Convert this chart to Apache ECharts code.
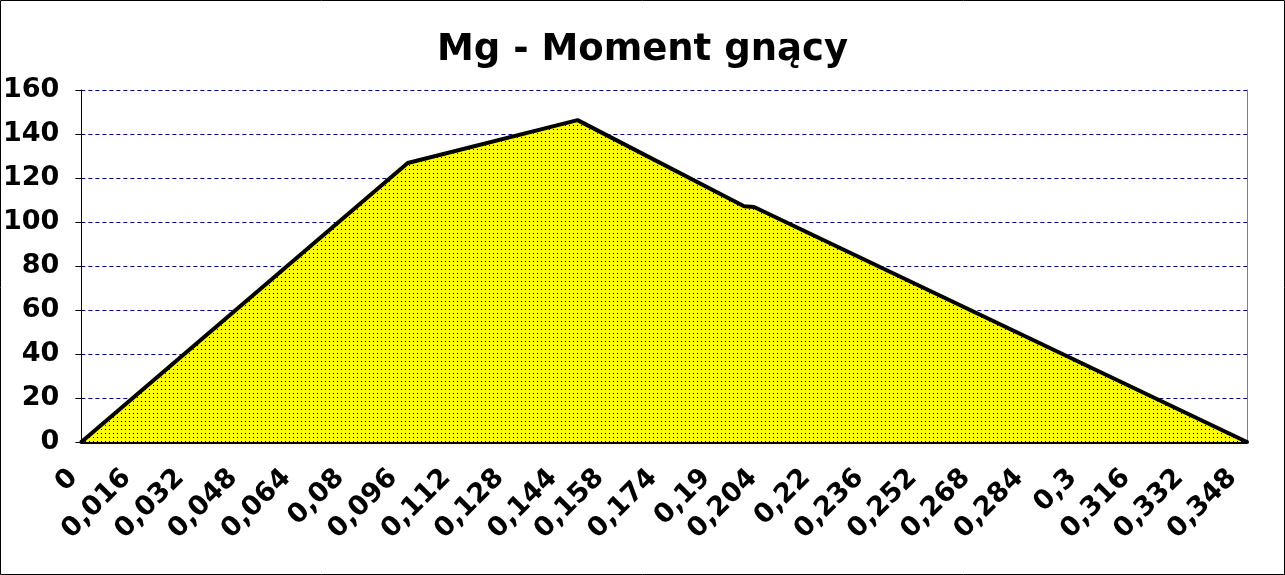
<!DOCTYPE html>
<html>
<head>
<meta charset="utf-8">
<script src="https://cdn.jsdelivr.net/npm/echarts@6/dist/echarts.min.js"></script>
<style>
html,body{margin:0;padding:0;background:#fff;}
#c{width:1285px;height:575px;}
</style>
</head>
<body>
<div id="c"></div>
<script>
// Data (x in metres, Mg values)
var xPoints = [0, 0.098, 0.149, 0.199, 0.202, 0.35];
var mgValues = [0, 126.8, 146.3, 107.2, 106.8, 0];
var xTickLabels = [0, 0.016, 0.032, 0.048, 0.064, 0.08, 0.096, 0.112, 0.128, 0.144, 0.158, 0.174, 0.19, 0.204, 0.22, 0.236, 0.252, 0.268, 0.284, 0.3, 0.316, 0.332, 0.348];
var yTicks = [0, 20, 40, 60, 80, 100, 120, 140, 160];
var titleText = 'Mg - Moment gnący';

var seriesData = xPoints.map(function (x, i) { return [x, mgValues[i]]; });

// dotted yellow fill pattern
var pat = document.createElement('canvas');
pat.width = 4; pat.height = 4;
var pc = pat.getContext('2d');
pc.fillStyle = '#ffff00';
pc.fillRect(0, 0, 4, 4);
pc.fillStyle = '#000000';
pc.fillRect(1, 1, 1, 1);

var FONT = 'DejaVu Sans';
var chart = echarts.init(document.getElementById('c'), null, {renderer: 'canvas'});
chart.setOption({
  backgroundColor: '#ffffff',
  animation: false,
  title: {
    text: titleText,
    left: 'center',
    top: 27,
    textStyle: {fontFamily: FONT, fontWeight: 'bold', fontSize: 37, color: '#000'}
  },
  graphic: [{
    type: 'rect',
    shape: {x: 0.5, y: 0.5, width: 1284, height: 574},
    style: {fill: null, stroke: '#000', lineWidth: 1},
    silent: true
  }],
  grid: {left: 80, top: 90, right: 38, bottom: 133, containLabel: false},
  xAxis: {
    type: 'value',
    min: 0,
    max: 0.35,
    axisLine: {show: true, onZero: false, lineStyle: {color: '#000', width: 4}},
    axisTick: {show: false},
    splitLine: {show: false},
    axisLabel: {
      customValues: xTickLabels,
      rotate: 45,
      margin: 24,
      padding: [0, 11, 0, 0],
      fontFamily: FONT,
      fontWeight: 'bold',
      fontSize: 27,
      color: '#000',
      formatter: function (v) { return String(+v.toFixed(3)).replace('.', ','); }
    }
  },
  yAxis: [{
    type: 'value',
    min: yTicks[0],
    max: yTicks[yTicks.length - 1],
    interval: 20,
    axisLine: {show: true, lineStyle: {color: '#000', width: 1}},
    axisTick: {show: true, length: 6, lineStyle: {color: '#000'}},
    splitLine: {show: true, lineStyle: {color: '#000080', type: [4, 3], width: 1}},
    axisLabel: {
      margin: 22,
      fontFamily: FONT,
      fontWeight: 'bold',
      fontSize: 27,
      color: '#000'
    }
  }, {
    type: 'value',
    position: 'right',
    min: yTicks[0],
    max: yTicks[yTicks.length - 1],
    interval: 20,
    axisLine: {show: true, lineStyle: {color: '#808080', width: 1}},
    axisTick: {show: false},
    axisLabel: {show: false},
    splitLine: {show: false}
  }],
  series: [{
    type: 'line',
    data: seriesData,
    showSymbol: false,
    symbol: 'none',
    lineStyle: {color: '#000', width: 4},
    areaStyle: {color: {image: pat, repeat: 'repeat'}, opacity: 1, origin: 'start'},
    z: 3
  }]
});
</script>
</body>
</html>
